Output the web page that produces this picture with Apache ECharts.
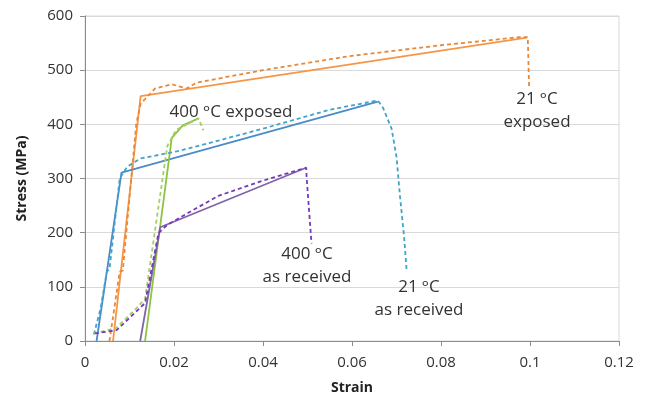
<!DOCTYPE html>
<html>
<head>
<meta charset="utf-8">
<script src="https://cdn.jsdelivr.net/npm/echarts@6/dist/echarts.min.js"></script>
<style>
  html, body { margin: 0; padding: 0; background: #fff; }
  #chart { width: 645px; height: 407px; }
</style>
</head>
<body>
<div id="chart"></div>
<script>
// stress-strain curves, [strain, stress (MPa)]
const exposed21Solid = [[0.0063, 0], [0.0125, 452], [0.0993, 560]];
const exposed21Dashed = [[0.0055, 0], [0.0078, 128], [0.0085, 130], [0.0115, 400], [0.0125, 438],
  [0.0139, 450], [0.0157, 466], [0.0195, 474], [0.0228, 466], [0.0251, 477], [0.04, 500],
  [0.0595, 526], [0.08, 546], [0.0977, 561], [0.0995, 561], [0.0998, 468]];
const received21Solid = [[0.0026, 0], [0.0082, 311], [0.0658, 442]];
const received21Dashed = [[0.002, 12], [0.0035, 60], [0.0049, 128], [0.0055, 132], [0.0078, 300],
  [0.0095, 322], [0.0125, 337], [0.0206, 350], [0.03, 370], [0.04, 392], [0.055, 427],
  [0.0658, 444], [0.067, 430], [0.0689, 392], [0.07, 340], [0.0708, 266], [0.0717, 193], [0.0723, 128]];
const exposed400Solid = [[0.0135, 0], [0.0195, 375], [0.022, 398], [0.0255, 411]];
const exposed400Dashed = [[0.002, 14], [0.007, 24], [0.0115, 60], [0.0135, 78], [0.0185, 360],
  [0.0205, 390], [0.0255, 411], [0.0266, 389]];
const received400Solid = [[0.0124, 0], [0.0169, 210], [0.0494, 319]];
const received400Dashed = [[0.0022, 14], [0.0071, 20], [0.0135, 70], [0.0165, 199], [0.0184, 214],
  [0.025, 245], [0.03, 268], [0.04, 296], [0.0497, 320], [0.0498, 303], [0.0509, 180]];

const xTicks = { min: 0, max: 0.12, step: 0.02 };
const yTicks = { min: 0, max: 600, step: 100 };

const labelFont = '"Open Sans", "Noto Sans", sans-serif';

function line(name, data, color, dashed) {
  return {
    name, type: 'line', data, showSymbol: false, animation: false,
    lineStyle: { color, width: 1.8, type: dashed ? [4, 3] : 'solid' },
    z: dashed ? 3 : 2
  };
}

// curve labels; the raised small "o" is the modifier letter U+1D52
function curveLabel(x, y, text) {
  return {
    type: 'text', x, y, z: 10,
    style: {
      text, align: 'center', verticalAlign: 'middle', fill: '#333',
      font: '17px "Open Sans", "DejaVu Sans", sans-serif', lineHeight: 23
    }
  };
}

const chart = echarts.init(document.getElementById('chart'));
chart.setOption({
  backgroundColor: '#fff',
  animation: false,
  grid: { left: 85, right: 26, top: 16, bottom: 66, show: true, borderColor: '#d9d9d9', borderWidth: 1 },
  xAxis: {
    type: 'value', min: xTicks.min, max: xTicks.max, interval: xTicks.step,
    name: 'Strain', nameLocation: 'middle', nameGap: 40,
    nameTextStyle: { fontFamily: labelFont, fontWeight: 'bold', fontSize: 14, color: '#222' },
    axisLine: { lineStyle: { color: '#8c8c8c' } },
    axisTick: { show: true, length: 5, lineStyle: { color: '#8c8c8c' } },
    axisLabel: { fontFamily: labelFont, fontSize: 15, color: '#333', margin: 14,
      formatter: v => String(+v.toFixed(2)) },
    splitLine: { show: false }
  },
  yAxis: {
    type: 'value', min: yTicks.min, max: yTicks.max, interval: yTicks.step,
    name: 'Stress (MPa)', nameLocation: 'middle', nameGap: 56, nameRotate: 90,
    nameTextStyle: { fontFamily: labelFont, fontWeight: 'bold', fontSize: 14, color: '#222' },
    axisLine: { show: true, lineStyle: { color: '#8c8c8c' } },
    axisTick: { show: true, length: 5, lineStyle: { color: '#8c8c8c' } },
    axisLabel: { fontFamily: labelFont, fontSize: 15, color: '#333', margin: 12 },
    splitLine: { lineStyle: { color: '#d9d9d9' } }
  },
  series: [
    line('21 C exposed', exposed21Solid, '#F79646', false),
    line('21 C exposed dashed', exposed21Dashed, '#E8893A', true),
    line('21 C as received', received21Solid, '#4A8BC8', false),
    line('21 C as received dashed', received21Dashed, '#41A3C9', true),
    line('400 C exposed dashed', exposed400Dashed, '#A3CF62', true),
    line('400 C exposed', exposed400Solid, '#8CC43F', false),
    line('400 C as received', received400Solid, '#8064A8', false),
    line('400 C as received dashed', received400Dashed, '#7438C0', true)
  ],
  graphic: [
    curveLabel(231, 112, '400 \u1D52C exposed'),
    curveLabel(537, 111, '21 \u1D52C\nexposed'),
    curveLabel(307, 266, '400 \u1D52C\nas received'),
    curveLabel(419, 299, '21 \u1D52C\nas received')
  ]
});
</script>
</body>
</html>
